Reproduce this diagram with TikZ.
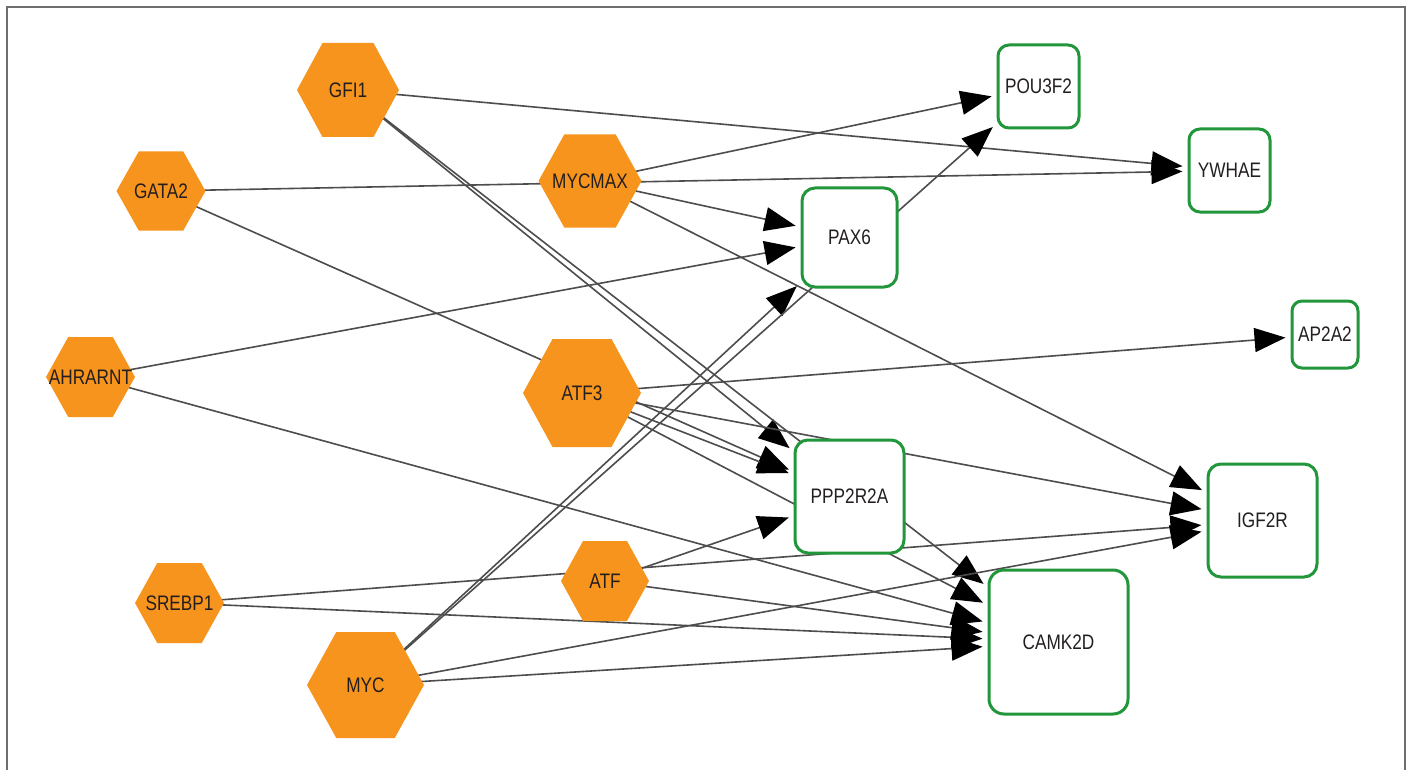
\documentclass[tikz,border=0pt]{standalone}
\usepackage{fontspec}
\setmainfont{Liberation Sans}[FakeStretch=0.82]
\usetikzlibrary{arrows.meta}
\definecolor{hexor}{RGB}{247,148,29}
\definecolor{boxgr}{RGB}{34,150,58}
\definecolor{edgegr}{RGB}{77,77,77}
\definecolor{txt}{RGB}{35,31,32}
\definecolor{framegr}{RGB}{110,110,110}
\pgfdeclarelayer{back}
\pgfdeclarelayer{bg}
\pgfsetlayers{back,bg,main}
\newcommand{\hexnode}[6]{%
  \fill[hexor] ({#2-#4},#3) -- ({#2-#4/2},{#3-#5}) -- ({#2+#4/2},{#3-#5}) -- ({#2+#4},#3) -- ({#2+#4/2},{#3+#5}) -- ({#2-#4/2},{#3+#5}) -- cycle;
  \node[hextext] (#1) at (#2,#3) {#6};
}
\tikzset{
  hextext/.style={inner sep=0pt, text=txt, font=\fontsize{21}{25}\selectfont},
  genebox/.style={draw=boxgr, line width=3pt, fill=white, rounded corners=13pt, inner sep=0pt, text=txt, font=\fontsize{21}{25}\selectfont},
  edge/.style={draw=edgegr, line width=1.6pt, shorten >=5pt, -{Triangle[length=31pt,width=24pt,fill=black,color=black]}},
}
\begin{document}
\begin{tikzpicture}[x=1pt,y=-1pt]
\useasboundingbox (0,0) rectangle (1410,770);
\begin{pgfonlayer}{back}
\fill[white] (0,0) rectangle (1410,770);
\draw[framegr, line width=2pt] (6.5,770) -- (6.5,7) -- (1405,7) -- (1405,770);
\end{pgfonlayer}
% hexagon (transcription factor) nodes
\hexnode{GFI1}{348}{90}{51}{47}{GFI1}
\hexnode{GATA2}{161}{191}{44.5}{39.5}{GATA2}
\hexnode{MYCMAX}{590}{181}{51.5}{46.5}{MYCMAX}
\hexnode{AHRARNT}{90.5}{377}{44.5}{40}{AHRARNT}
\hexnode{ATF3}{582}{393}{59}{54}{ATF3}
\hexnode{ATF}{605}{581}{44}{40}{ATF}
\hexnode{SREBP1}{179.5}{603}{44.5}{40}{SREBP1}
\hexnode{MYC}{365.5}{685}{58.5}{53}{MYC}
% gene boxes
\node[genebox, minimum width=81pt, minimum height=83pt, rounded corners=11pt] (POU3F2) at (1038.5,86.5) {POU3F2};
\node[genebox, minimum width=95pt, minimum height=99pt] (PAX6) at (849.5,237.5) {PAX6};
\node[genebox, minimum width=81pt, minimum height=83pt, rounded corners=11pt] (YWHAE) at (1229.5,170.5) {YWHAE};
\node[genebox, minimum width=66pt, minimum height=67pt, rounded corners=10pt] (AP2A2) at (1325,334.5) {AP2A2};
\node[genebox, minimum width=109pt, minimum height=113pt] (PPP2R2A) at (849.5,496.5) {PPP2R2A};
\node[genebox, minimum width=109pt, minimum height=113pt] (IGF2R) at (1262.5,520.5) {IGF2R};
\node[genebox, minimum width=139pt, minimum height=144pt, rounded corners=15pt] (CAMK2D) at (1058.5,642) {CAMK2D};
% edges
\begin{pgfonlayer}{bg}
\draw[edge] (GFI1.center) -- (YWHAE);
\draw[edge] (GFI1.center) -- (PPP2R2A);
\draw[edge] (GFI1.center) -- (CAMK2D);
\draw[edge] (GATA2.center) -- (YWHAE);
\draw[edge] (GATA2.center) -- (PPP2R2A);
\draw[edge] (MYCMAX.center) -- (POU3F2);
\draw[edge] (MYCMAX.center) -- (PAX6);
\draw[edge] (MYCMAX.center) -- (IGF2R);
\draw[edge] (AHRARNT.center) -- (PAX6);
\draw[edge] (AHRARNT.center) -- (CAMK2D);
\draw[edge] (ATF3.center) -- (AP2A2);
\draw[edge] (ATF3.center) -- (PPP2R2A);
\draw[edge] (ATF3.center) -- (IGF2R);
\draw[edge] (ATF3.center) -- (CAMK2D);
\draw[edge] (SREBP1.center) -- (IGF2R);
\draw[edge] (SREBP1.center) -- (CAMK2D);
\draw[edge] (ATF.center) -- (PPP2R2A);
\draw[edge] (ATF.center) -- (CAMK2D);
\draw[edge] (MYC.center) -- (PAX6);
\draw[edge] (MYC.center) -- (POU3F2);
\draw[edge] (MYC.center) -- (IGF2R);
\draw[edge] (MYC.center) -- (CAMK2D);
\end{pgfonlayer}
\end{tikzpicture}
\end{document}
